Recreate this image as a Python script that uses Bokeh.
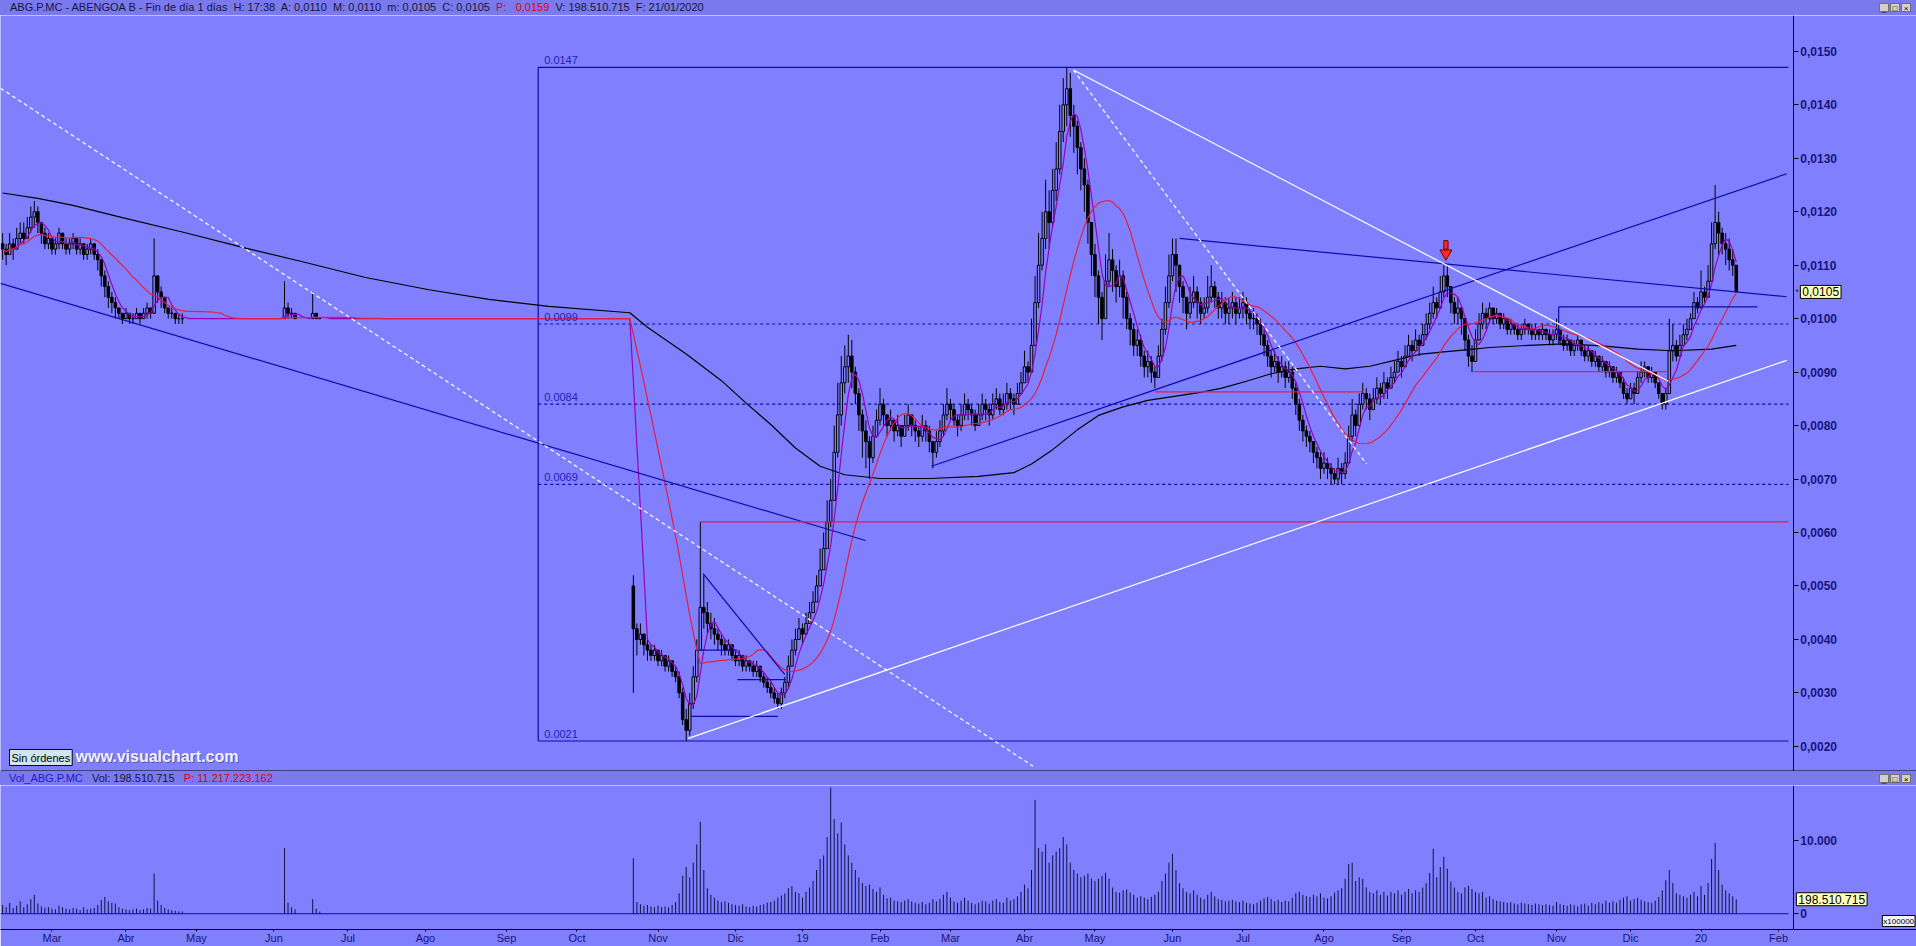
import numpy as np
import pandas as pd
from bokeh.plotting import figure
from bokeh.models import Range1d, FixedTicker, Span, Label, Div
from bokeh.layouts import column
from bokeh.embed import file_html
from bokeh.resources import INLINE

# ---------------- calendar (trading days per month, Mar-2018 .. Jan-2020) ----------------
month_labels = ["Mar", "Abr", "May", "Jun", "Jul", "Ago", "Sep", "Oct", "Nov", "Dic", "19", "Feb",
                "Mar", "Abr", "May", "Jun", "Jul", "Ago", "Sep", "Oct", "Nov", "Dic", "20", "Feb"]
month_trading_days = [21, 20, 22, 21, 22, 23, 20, 23, 22, 19, 22, 20, 21, 20, 22, 20, 23, 22, 21, 23, 21, 20, 22]

# prices in units of 0.0001 EUR, volumes in units of 100000 shares
# ---- segment 1: mid Feb 2018 .. Jun 2018 (day index -11 .. 83) ----
SEG1_START = -11
SEG1_OPEN = 114
close1 = [113, 112, 114, 113, 115, 116, 115, 117, 119, 120, 118,
          116, 114, 115, 113, 114, 116, 114, 113, 114, 115, 113, 114, 112, 113, 114, 112, 111, 108, 106, 104, 103,
          102, 101, 100, 101, 100, 100, 101, 100, 101, 102, 101, 108, 105, 104, 102, 101, 101, 100, 100, 100,
          100, 100, 100, 100, 100, 100, 100, 100, 100, 100, 100, 100, 100, 100, 100, 100, 100, 100, 100, 100, 100, 100,
          100, 100, 100, 100, 100, 100, 102, 101, 101, 100, 100, 100, 100, 100, 101, 100, 100, 100, 100, 100, 100]
high1 = [116, 114, 116, 115, 117, 118, 118, 119, 121, 122, 121,
         118, 117, 116, 115, 115, 117, 116, 115, 115, 116, 115, 115, 114, 114, 115, 114, 113, 111, 109, 107, 105,
         104, 102, 101, 102, 101, 101, 102, 101, 102, 103, 102, 115, 108, 106, 104, 102, 102, 101, 101, 101,
         100, 100, 100, 100, 100, 100, 100, 100, 100, 100, 100, 100, 100, 100, 100, 100, 100, 100, 100, 100, 100, 100,
         100, 100, 100, 100, 100, 100, 107, 103, 102, 101, 100, 100, 100, 100, 105, 101, 100, 100, 100, 100, 100]
low1 = [111, 110, 112, 111, 113, 114, 114, 115, 116, 117, 116,
        114, 113, 113, 112, 112, 113, 113, 112, 112, 113, 112, 112, 111, 111, 112, 111, 109, 106, 104, 102, 101,
        100, 100, 99, 100, 99, 99, 100, 99, 100, 100, 100, 101, 103, 102, 101, 100, 100, 99, 99, 99,
        100, 100, 100, 100, 100, 100, 100, 100, 100, 100, 100, 100, 100, 100, 100, 100, 100, 100, 100, 100, 100, 100,
        100, 100, 100, 100, 100, 100, 100, 100, 100, 100, 100, 100, 100, 100, 100, 100, 100, 100, 100, 100, 100]
vol1 = [1200, 900, 1500, 800, 1100, 1700, 900, 1300, 2000, 2600, 1400,
        1000, 800, 900, 700, 600, 1100, 900, 700, 600, 800, 700, 500, 900, 600, 700, 800, 1200, 1900, 2300, 1700, 1500,
        1400, 900, 700, 600, 500, 600, 700, 500, 600, 800, 700, 5500, 1800, 1200, 800, 600, 500, 400, 300, 300,
        0, 0, 0, 0, 0, 0, 0, 0, 0, 0, 0, 0, 0, 0, 0, 0, 0, 0, 0, 0, 0, 0,
        0, 0, 0, 0, 0, 0, 9000, 1500, 900, 600, 0, 0, 0, 0, 2000, 700, 300, 0, 0, 0, 0]

# ---- segment 2: end Oct 2018 .. 21 Jan 2020 (day index 168 .. 481) ----
SEG2_START = 168
SEG2_OPEN = 50
close2 = [42, 40, 41, 39,
          38, 37, 38, 36, 37, 35, 36, 34, 33, 30, 25, 23, 28, 33, 38, 46, 45, 43, 42, 41, 40, 39,
          38, 39, 37, 36, 37, 35, 36, 35, 34, 35, 33, 32, 31, 30, 29, 28, 30, 32, 35,
          38, 40, 42, 41, 43, 45, 47, 50, 53, 57, 62, 66, 75, 82, 88, 91, 93, 90, 86, 82, 79, 77,
          74, 78, 81, 84, 82, 80, 81, 79, 80, 78, 80, 82, 80, 79, 78, 80, 79, 77, 75, 77,
          79, 82, 84, 83, 81, 80, 82, 84, 83, 82, 80, 82, 84, 83, 82, 84, 85, 83, 84, 86, 85,
          84, 86, 88, 91, 90, 95, 103, 110, 115, 120, 118, 124, 128, 135, 140, 143, 138, 136, 132, 128,
          125, 118, 112, 108, 104, 100, 107, 111, 109, 106, 108, 104, 100, 98, 95, 96, 93, 91, 92, 90, 89, 93,
          98, 103, 108, 112, 110, 106, 104, 101, 103, 105, 103, 101, 102, 104, 106, 104, 102, 103, 101, 102,
          103, 101, 102, 103, 101, 100, 100, 99, 97, 95, 93, 91, 92, 90, 91, 89, 90, 87, 84, 81, 79, 78, 77,
          75, 74, 72, 73, 72, 71, 70, 72, 71, 73, 78, 82, 80, 84, 86, 85, 83, 85, 87, 86, 88, 87,
          89, 90, 92, 91, 93, 95, 94, 96, 95, 97, 99, 101, 103, 102, 105, 108, 106, 103, 101, 102, 100,
          96, 93, 92, 96, 99, 101, 100, 102, 100, 101, 99, 100, 98, 99, 98, 97, 98, 99, 98, 97, 98, 97, 98,
          97, 96, 97, 98, 96, 95, 96, 94, 95, 96, 94, 93, 94, 92, 93, 91, 92, 90, 91, 89, 90,
          88, 86, 85, 87, 86, 89, 90, 91, 89, 90, 88, 86, 84, 86, 94, 95, 93, 95, 97, 98,
          100, 103, 102, 105, 104, 107, 114, 118, 116, 114, 113, 111, 110, 105]
high2 = [52, 43, 43, 41,
         40, 39, 39, 38, 38, 37, 37, 36, 35, 34, 31, 27, 30, 35, 40, 62, 52, 47, 45, 44, 42, 41,
         40, 40, 39, 38, 38, 37, 37, 36, 36, 36, 35, 34, 33, 32, 31, 30, 31, 33, 37,
         40, 42, 44, 43, 45, 47, 49, 52, 57, 60, 66, 70, 80, 88, 93, 95, 97, 96, 91, 87, 83, 81,
         78, 80, 83, 87, 85, 82, 83, 81, 82, 80, 82, 84, 82, 81, 80, 82, 81, 80, 77, 79,
         81, 84, 87, 85, 84, 82, 84, 86, 85, 84, 83, 84, 86, 85, 84, 86, 87, 86, 86, 88, 87,
         86, 88, 90, 94, 92, 100, 108, 116, 120, 126, 124, 128, 133, 140, 145, 147, 146, 140, 137, 133,
         130, 126, 118, 114, 109, 105, 112, 116, 113, 110, 111, 109, 105, 101, 99, 98, 97, 94, 94, 93, 91, 95,
         100, 106, 112, 115, 115, 110, 107, 104, 106, 108, 106, 104, 104, 108, 110, 107, 105, 105, 104, 104,
         105, 104, 104, 105, 104, 102, 102, 101, 100, 98, 96, 94, 94, 93, 93, 92, 92, 91, 88, 85, 82, 80, 79,
         77, 76, 75, 75, 74, 73, 72, 74, 73, 75, 80, 85, 83, 86, 88, 87, 86, 87, 89, 88, 90, 89,
         91, 92, 94, 93, 95, 97, 96, 98, 97, 99, 101, 103, 106, 104, 108, 110, 110, 106, 104, 104, 102,
         100, 97, 95, 98, 101, 103, 102, 103, 102, 102, 101, 101, 100, 100, 99, 99, 99, 100, 99, 99, 99, 98, 99,
         98, 98, 98, 100, 98, 97, 97, 96, 96, 97, 96, 95, 95, 94, 94, 93, 93, 92, 92, 91, 91,
         90, 89, 87, 88, 88, 90, 92, 92, 91, 91, 90, 88, 86, 87, 100, 99, 96, 97, 99, 100,
         101, 105, 104, 109, 106, 110, 118, 125, 120, 117, 116, 115, 113, 110]
low2 = [30, 37, 39, 37,
        36, 36, 36, 35, 35, 34, 34, 33, 32, 29, 24, 21, 22, 27, 32, 38, 42, 41, 40, 39, 38, 37,
        37, 37, 36, 35, 35, 34, 34, 34, 33, 33, 32, 31, 30, 29, 28, 27, 27, 29, 31,
        35, 37, 40, 39, 41, 43, 45, 47, 50, 53, 57, 61, 66, 74, 80, 86, 88, 87, 84, 79, 74, 72,
        70, 73, 78, 80, 80, 78, 79, 77, 78, 76, 78, 79, 78, 77, 76, 77, 77, 75, 72, 74,
        76, 78, 81, 81, 80, 78, 79, 81, 81, 80, 79, 80, 81, 81, 80, 81, 83, 82, 82, 83, 83,
        82, 84, 86, 88, 88, 90, 95, 102, 109, 113, 113, 117, 122, 127, 133, 136, 134, 131, 127, 124,
        120, 114, 108, 104, 99, 96, 100, 106, 105, 103, 104, 100, 98, 95, 93, 93, 91, 89, 89, 88, 87, 89,
        92, 97, 102, 107, 105, 103, 101, 98, 100, 102, 100, 99, 100, 101, 103, 102, 100, 100, 99, 99,
        100, 99, 100, 100, 99, 98, 98, 97, 95, 93, 91, 89, 90, 88, 89, 87, 88, 85, 82, 79, 77, 76, 75,
        73, 72, 70, 71, 70, 69, 69, 69, 69, 70, 73, 77, 78, 80, 83, 83, 81, 83, 84, 84, 85, 85,
        87, 88, 90, 89, 91, 93, 92, 94, 93, 95, 96, 98, 100, 100, 102, 104, 104, 101, 99, 99, 97,
        94, 91, 90, 92, 96, 98, 98, 99, 99, 99, 98, 98, 97, 97, 97, 96, 96, 97, 97, 96, 96, 96, 96,
        96, 95, 95, 96, 95, 94, 94, 93, 93, 94, 93, 92, 92, 91, 91, 90, 90, 89, 89, 88, 88,
        87, 85, 84, 85, 84, 86, 88, 89, 88, 88, 87, 85, 83, 83, 86, 92, 92, 93, 95, 96,
        98, 100, 101, 102, 103, 104, 107, 113, 112, 112, 110, 109, 108, 105]
vol2 = [7600, 1600, 1300, 1100,
        1200, 1000, 900, 1100, 900, 1000, 900, 1200, 1600, 2800, 5200, 6400, 5000, 7000, 9500, 12600, 6000, 3500,
        2600, 2200, 1800, 1600,
        1700, 1500, 1300, 1200, 1100, 1300, 1000, 900, 1100, 1000, 1200, 1300, 1500, 1600, 1800, 2200, 2500, 2800, 3500,
        3800, 3000, 2800, 2200, 3000, 3600, 4500, 6000, 7500, 8000, 10500, 17300, 13000, 11000, 12500, 9500, 8000,
        7000, 6000, 5000, 4200, 3800,
        4000, 3400, 3000, 3600, 2600, 2100, 2200, 1800, 1700, 1600, 1800, 2000, 1700, 1500, 1400, 1600, 1300, 1500,
        2000, 1700,
        2000, 2600, 3000, 2200, 1700, 1500, 1800, 2200, 1800, 1500, 1300, 1500, 1800, 1700, 1400, 1800, 2000, 1600,
        1500, 2200, 1800,
        2000, 2400, 3000, 4000, 3500, 6000, 15600, 9000, 8500, 9500, 7000, 8000, 8500, 9000, 10500, 9500, 7000, 6000,
        5500, 5000,
        5200, 5500, 4800, 4500, 4800, 5200, 5600, 4800, 3600, 3000, 2900, 3200, 3300, 2900, 2600, 2200, 2400, 2200,
        2000, 2300, 2600, 3000,
        4500, 5500, 7000, 8200, 6000, 4200, 3500, 3000, 2800, 3200, 2600, 2200, 2000, 2600, 3000, 2400, 2000, 1900,
        1700, 1800,
        1900, 1700, 1600, 1800, 1500, 1400, 1300, 1500, 1800, 2100, 2300, 2000, 1700, 1900, 1600, 1800, 1700, 2200,
        2800, 3000, 2600, 2400, 2300,
        2600, 2400, 2800, 2200, 2100, 2400, 2900, 3200, 3500, 4800, 6800, 7000, 4500, 5000, 4800, 3600, 3000, 2800,
        3200, 2600, 3000, 2500,
        3000, 2800, 3200, 2600, 3000, 3400, 2800, 3200, 3000, 3600, 4200, 5600, 8900, 5000, 6400, 7800, 6200, 4400,
        3600, 3000, 2800,
        3600, 3800, 3400, 3000, 2800, 3000, 2200, 2400, 2000, 1800, 1700, 1600, 1500, 1600, 1400, 1300, 1500, 1400,
        1300, 1200, 1400, 1300, 1200,
        1300, 1200, 1100, 1600, 1300, 1200, 1100, 1300, 1200, 1000, 1300, 1400, 1100, 1500, 1300, 1600, 1400, 1800,
        1500, 1700, 1500,
        1900, 2200, 2400, 1800, 2000, 2200, 1900, 1700, 1600, 1500, 1800, 2300, 3200, 4600, 6000, 4200, 2800, 2600,
        2400, 2200,
        2600, 3000, 2400, 3800, 2600, 4200, 7500, 9700, 6000, 4000, 3200, 2800, 2400, 1985.1]

# long moving average (black) at sample days
ma_long_day = [-11, -1, 9, 23, 40, 58, 75, 92, 110, 127, 144, 167, 172, 183, 193, 200, 207, 214, 221, 228,
               238, 252, 266, 276, 281, 287, 294, 300, 307, 314, 321, 328, 335, 342, 349, 356, 363, 370, 377,
               384, 391, 398, 405, 411, 422, 432, 443, 453, 463, 474, 481]
ma_long_val = [123.5, 122.5, 121.2, 118.9, 116.2, 113.2, 110.5, 107.7, 105.4, 103.6, 102.3, 101.1, 98.4, 93.4,
               88.4, 84.2, 80.2, 75.8, 72.4, 70.8, 70.1, 70.1, 70.5, 71.2, 72.8, 75.5, 79.2, 81.9, 83.5, 84.7,
               85.4, 86.1, 87.0, 88.3, 89.7, 90.6, 91.1, 90.6, 91.1, 92.2, 93.3, 93.8, 94.2, 94.6, 95.0, 95.3,
               94.9, 94.3, 94.0, 94.3, 95.0]

# Fibonacci box (day, price levels) and drawn trend lines
fib_left = 141.0
fib_right = 495.8
fib_levels = [147, 99, 84, 69, 21]
fib_texts = ["0.0147", "0.0099", "0.0084", "0.0069", "0.0021"]
line_x0 = [-11.6, -11.6, 292.9, 292.9, 183.6, 252.6, 323.0, 187.0, 316.0, 406.4, 430.6, 430.6, 187.8, 186.8, 197.5, 184.3]
line_y0 = [106.6, 143.1, 146.5, 146.5, 21.5, 72.4, 115.0, 62.0, 86.3, 90.1, 102.2, 102.2, 52.3, 38.0, 32.5, 25.6]
line_x1 = [233.9, 281.4, 376.1, 461.7, 495.3, 495.3, 495.3, 495.8, 375.0, 461.7, 487.0, 430.6, 211.0, 197.5, 211.3, 209.0]
line_y1 = [58.5, 16.3, 72.8, 88.3, 92.2, 127.1, 104.1, 62.0, 86.3, 90.1, 102.2, 95.4, 33.4, 38.0, 32.5, 25.6]
line_kind = ["blue", "wdash", "wdash", "white", "white", "blue", "blue", "red", "red", "red", "blue", "blue",
             "blue", "blue", "blue", "blue"]
arrow_day, arrow_val = 398.6, 112.2

last_close = 105
last_volume = 1985.1

# ---------------- styling ----------------
BG = "#8080ff"
STRIP = "#7a7aee"
NAVY = "#15157a"
FONT = "Liberation Sans"
W = 1916
X_START = -11.6
X_AXIS = 497.2          # day position of the price scale line
X_END = 532.15          # frame runs under the price scale
P_LO, P_HI = 15.3, 156.7
V_LO, V_HI = -2160, 17570
KIND_COLOR = {"blue": "#0a0ab0", "wdash": "#ffffff", "white": "#ffffff", "red": "#e41e4a"}
KIND_DASH = {"blue": "solid", "wdash": "4 3", "white": "solid", "red": "solid"}

# ---------------- derived daily arrays ----------------
idx1 = list(range(SEG1_START, SEG1_START + len(close1)))
idx2 = list(range(SEG2_START, SEG2_START + len(close2)))
day = np.array(idx1 + idx2, dtype=float)
C = np.array(close1 + close2, dtype=float)
H = np.array(high1 + high2, dtype=float)
L = np.array(low1 + low2, dtype=float)
V = np.array(vol1 + vol2, dtype=float)
O = np.empty_like(C)
O[1:] = C[:-1]
O[0] = SEG1_OPEN
O[len(idx1)] = SEG2_OPEN
HI = np.maximum(H, np.maximum(O, C))
LO = np.minimum(L, np.minimum(O, C))

# price unchanged while the share did not trade
all_days = np.arange(SEG1_START, SEG2_START + len(close2))
s = pd.Series(C, index=day.astype(int)).reindex(all_days).ffill()
ma_fast = s.rolling(5, min_periods=1).mean()
ma_mid = s.rolling(20, min_periods=1).mean()

tr = V > 0
up = tr & (C >= O)
dn = tr & (C < O)

xr = Range1d(X_START, X_END)


def style_right_axis(ax, ticks, labels):
    ax.fixed_location = X_AXIS
    ax.ticker = FixedTicker(ticks=ticks)
    ax.major_label_overrides = dict(zip(ticks, labels))
    ax.minor_tick_line_color = None
    ax.major_tick_in = 0
    ax.major_tick_out = 5
    ax.major_tick_line_color = "black"
    ax.axis_line_color = "black"
    ax.major_label_text_font = FONT
    ax.major_label_text_font_size = "12px"
    ax.major_label_text_font_style = "bold"
    ax.major_label_text_color = NAVY
    ax.major_label_standoff = 2


# ---------------- price panel ----------------
p = figure(width=W, height=756, x_range=xr, y_range=Range1d(P_LO, P_HI),
           output_backend="svg", toolbar_location=None,
           x_axis_location=None, y_axis_location="right",
           background_fill_color=BG, border_fill_color=BG, outline_line_color=None,
           min_border_left=0, min_border_top=0, min_border_bottom=0, min_border_right=0)
p.grid.visible = False
price_ticks = list(range(20, 151, 10))
style_right_axis(p.yaxis[0], price_ticks, [f"{t / 10000:.4f}".replace(".", ",") for t in price_ticks])

# Fibonacci box
p.segment(x0=[fib_left], y0=[fib_levels[-1]], x1=[fib_left], y1=[fib_levels[0]], line_color="#0a0ab0", line_width=1.2)
p.segment(x0=[fib_left, fib_left], y0=[fib_levels[0], fib_levels[-1]], x1=[fib_right, fib_right],
          y1=[fib_levels[0], fib_levels[-1]], line_color="#0a0ab0", line_width=1.2)
p.segment(x0=[fib_left] * 3, y0=fib_levels[1:4], x1=[fib_right] * 3, y1=fib_levels[1:4],
          line_color="#0a0ab0", line_width=1.2, line_dash="3 3")

# candles
p.segment(x0=day[tr], y0=LO[tr], x1=day[tr], y1=HI[tr], line_color="black", line_width=1)
p.vbar(x=day[up], width=0.72, bottom=O[up], top=C[up], fill_color=BG, line_color="black", line_width=1)
p.vbar(x=day[dn], width=0.72, bottom=C[dn], top=O[dn], fill_color="black", line_color="black", line_width=1)

# moving averages
p.line(ma_long_day, ma_long_val, line_color="black", line_width=1.2)
p.line(all_days, ma_fast.values, line_color="#9a00b8", line_width=1.2)
p.line(all_days, ma_mid.values, line_color="#e41e3c", line_width=1.2)

# drawn lines
for k in ["blue", "red", "wdash", "white"]:
    sel = [i for i, kk in enumerate(line_kind) if kk == k]
    p.segment(x0=[line_x0[i] for i in sel], y0=[line_y0[i] for i in sel],
              x1=[line_x1[i] for i in sel], y1=[line_y1[i] for i in sel],
              line_color=KIND_COLOR[k], line_width=1.2, line_dash=KIND_DASH[k])

# red arrow
p.rect(x=[arrow_day], y=[arrow_val + 1.6], width=1.2, height=1.6, fill_color="#ff2a1a", line_color="#700000")
p.scatter(x=[arrow_day], y=[arrow_val], marker="inverted_triangle", size=12,
          fill_color="#ff2a1a", line_color="#700000")

# fib labels
for lv, tx in zip(fib_levels, fib_texts):
    p.add_layout(Label(x=fib_left, y=lv, x_offset=6, y_offset=3, text=tx, text_baseline="bottom",
                       text_font=FONT, text_font_size="11px", text_color="#2020b8"))

# bottom frame line
p.add_layout(Span(location=P_LO, dimension="width", line_color="black", line_width=2))

# last price box on the scale
p.add_layout(Label(x=X_AXIS, y=last_close, x_offset=2, text="*", text_baseline="middle",
                   text_font=FONT, text_font_size="9px", text_color="#202020"))
p.add_layout(Label(x=X_AXIS, y=last_close, x_offset=7, text="0,0105", text_baseline="middle",
                   text_font=FONT, text_font_size="12px", text_color="black",
                   background_fill_color="#ffffc0", border_line_color="black", padding=2))

# "Sin órdenes" button and watermark
p.add_layout(Label(x=X_START, y=P_LO, x_offset=9, y_offset=6, text="Sin órdenes", text_baseline="bottom",
                   text_font=FONT, text_font_size="11px", text_color="black",
                   background_fill_color="#cfe6ee", border_line_color="black", padding=2))
p.add_layout(Label(x=X_START, y=P_LO, x_offset=76, y_offset=6, text="www.visualchart.com",
                   text_baseline="bottom", text_font=FONT, text_font_size="16px", text_font_style="bold",
                   text_color="#5a5aa8"))
p.add_layout(Label(x=X_START, y=P_LO, x_offset=75, y_offset=7, text="www.visualchart.com",
                   text_baseline="bottom", text_font=FONT, text_font_size="16px", text_font_style="bold",
                   text_color="#f2f2ff"))

# ---------------- volume panel ----------------
pv = figure(width=W, height=161, x_range=xr, y_range=Range1d(V_LO, V_HI),
            output_backend="svg", toolbar_location=None,
            x_axis_location="below", y_axis_location="right",
            background_fill_color=BG, border_fill_color=BG, outline_line_color=None,
            min_border_left=0, min_border_top=0, min_border_bottom=0, min_border_right=0)
pv.grid.visible = False
style_right_axis(pv.yaxis[0], [0, 10000], ["0", "10.000"])

month_starts = [0]
for n in month_trading_days:
    month_starts.append(month_starts[-1] + n)
mt = [m + 3 for m in month_starts]
ax = pv.xaxis[0]
ax.ticker = FixedTicker(ticks=mt)
ax.major_label_overrides = dict(zip(mt, month_labels))
ax.minor_tick_line_color = None
ax.major_tick_in = 0
ax.major_tick_out = 2
ax.major_tick_line_color = "black"
ax.axis_line_color = "black"
ax.major_label_standoff = 0
ax.major_label_text_font = FONT
ax.major_label_text_font_size = "11px"
ax.major_label_text_color = NAVY

pv.segment(x0=[X_START], y0=[0], x1=[fib_right], y1=[0], line_color="#0a0ab0", line_width=1.2)
pv.segment(x0=day[tr], y0=np.zeros(int(tr.sum())), x1=day[tr], y1=V[tr], line_color="#101048", line_width=1)
pv.add_layout(Label(x=X_AXIS, y=last_volume, x_offset=3, text="198.510.715", text_baseline="middle",
                    text_font=FONT, text_font_size="12px", text_color="black",
                    background_fill_color="#ffffc0", border_line_color="black", padding=2))
pv.add_layout(Label(x=X_AXIS, y=V_LO, x_offset=89, y_offset=3, text="x100000", text_baseline="bottom",
                    text_font=FONT, text_font_size="8px", text_color="black",
                    background_fill_color="#f4f4f4", border_line_color="black", padding=1))

# ---------------- header strips ----------------
BTN = ('<span style="display:inline-block;width:10px;height:9px;background:#d4d0c8;border:1px solid #707070;'
       'font-size:8px;line-height:9px;text-align:center;color:#000;margin-left:1px">{}</span>')
buttons = '<span style="padding-right:5px;display:flex">' + BTN.format("_") + BTN.format("□") + BTN.format("×") + "</span>"

hdr1_html = ('<div style="display:flex;justify-content:space-between;align-items:center;width:1916px;height:15px;'
             'white-space:nowrap;overflow:hidden">'
             '<span style="padding-left:10px;color:#15153a">ABG.P.MC - ABENGOA B - Fin de día 1 días&nbsp; H: 17:38&nbsp; '
             'A: 0,0110&nbsp; M: 0,0110&nbsp; m: 0,0105&nbsp; C: 0,0105&nbsp; '
             '<span style="color:#e00000">P:&nbsp;&nbsp; 0,0159</span>&nbsp; V: 198.510.715&nbsp; F: 21/01/2020</span>'
             + buttons + '</div>')
hdr2_html = ('<div style="display:flex;justify-content:space-between;align-items:center;width:1916px;height:14px;'
             'white-space:nowrap;overflow:hidden">'
             '<span style="padding-left:9px"><span style="color:#1c1cc8">Vol_ABG.P.MC</span>&nbsp;&nbsp; '
             '<span style="color:#15153a">Vol: 198.510.715</span>&nbsp;&nbsp; '
             '<span style="color:#e00000">P: 11.217.223.162</span></span>'
             + buttons + '</div>')
div_styles = {"background-color": STRIP, "font-family": "Liberation Sans, Arial, sans-serif", "font-size": "11px"}
hdr1 = Div(text=hdr1_html, width=W, height=15, margin=0, styles=div_styles)
hdr2 = Div(text=hdr2_html, width=W, height=14, margin=0, styles=div_styles)

layout = column(hdr1, p, hdr2, pv, spacing=0)
open("out.html", "w").write(file_html(layout, INLINE))
